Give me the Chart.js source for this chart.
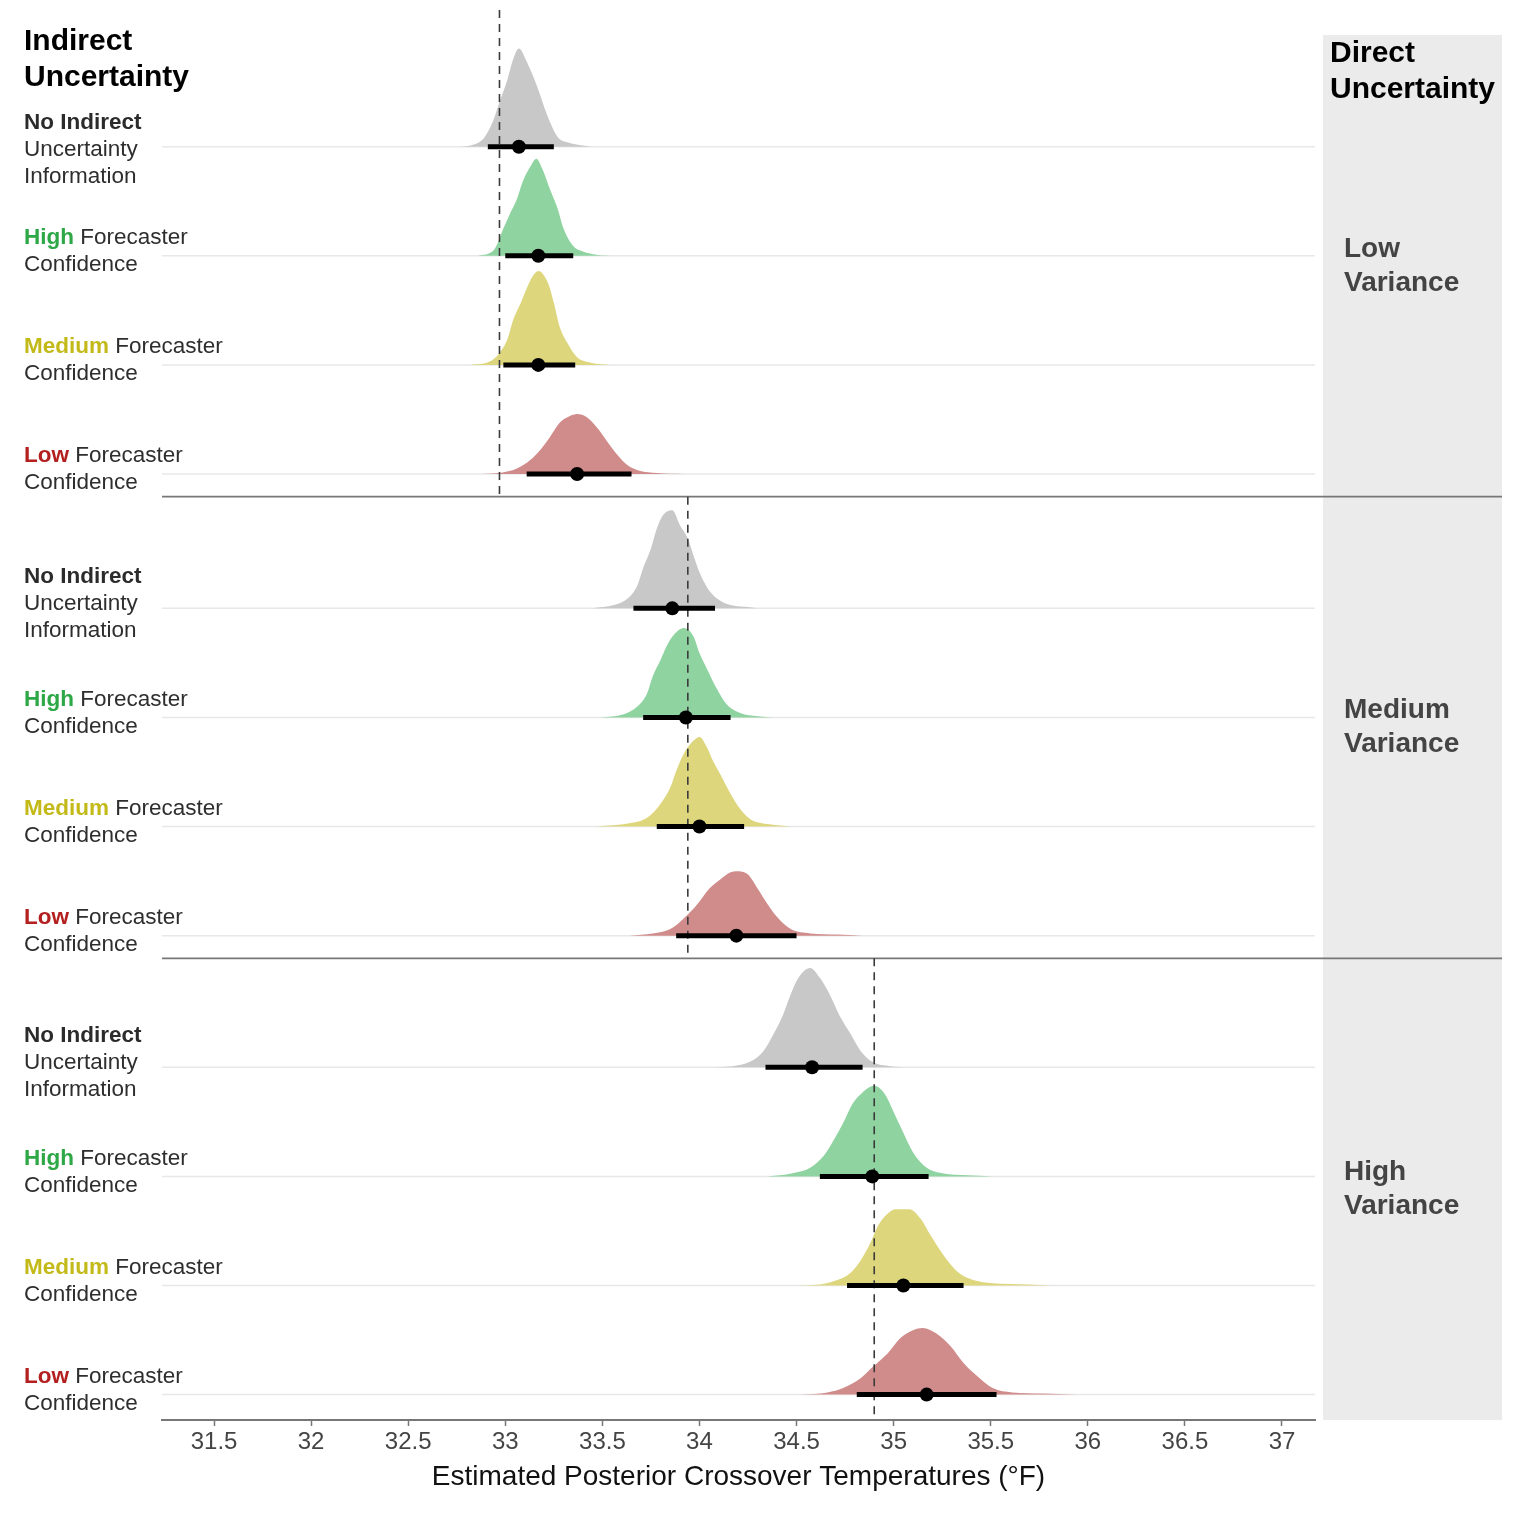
<!DOCTYPE html>
<html><head><meta charset="utf-8">
<script src="https://cdn.jsdelivr.net/npm/chart.js@4.4.1/dist/chart.umd.min.js"></script>
<style>html,body{margin:0;padding:0;background:#fff;}#wrap{width:1535px;height:1519px;}</style>
</head><body><div id="wrap"><canvas id="c" width="1535" height="1519"></canvas></div>
<script>
// ---------------- DATA ----------------
const xTicks = [31.5, 32, 32.5, 33, 33.5, 34, 34.5, 35, 35.5, 36, 36.5, 37];
const xTickLabels = ['31.5','32','32.5','33','33.5','34','34.5','35','35.5','36','36.5','37'];
const panelLabels = [['Low','Variance'], ['Medium','Variance'], ['High','Variance']];
const rowLeads = ['No Indirect', 'High', 'Medium', 'Low'];
const refLines = [32.97, 33.94, 34.90];

// Low variance panel densities (x in °F, h = ridge height in row units)
const lowNoneX = [32.77,32.82,32.89,32.94,32.97,33.01,33.04,33.07,33.11,33.16,33.22,33.27,33.32,33.40,33.44];
const lowNoneH = [0,.01,.08,.25,.41,.61,.80,.90,.78,.57,.27,.09,.04,.01,0];
const lowHighX = [32.86,32.94,32.99,33.02,33.06,33.09,33.13,33.16,33.19,33.23,33.27,33.30,33.35,33.40,33.47,33.54];
const lowHighH = [0,.05,.25,.37,.52,.68,.82,.89,.80,.61,.43,.25,.09,.04,.01,0];
const lowMedX = [32.82,32.92,32.97,33.01,33.04,33.08,33.11,33.14,33.17,33.22,33.25,33.28,33.32,33.37,33.44,33.54];
const lowMedH = [0,.03,.11,.23,.41,.57,.70,.81,.86,.75,.57,.35,.20,.07,.02,0];
const lowLowX = [32.85,32.97,33.06,33.13,33.18,33.23,33.28,33.33,33.37,33.42,33.47,33.52,33.58,33.63,33.69,33.78,33.92];
const lowLowH = [0,.01,.05,.13,.22,.34,.47,.53,.55,.52,.43,.31,.17,.08,.03,.01,0];
const lowIntLo = [32.91, 33.00, 32.99, 33.11];
const lowIntHi = [33.25, 33.35, 33.36, 33.65];
const lowMed   = [33.07, 33.17, 33.17, 33.37];

// Medium variance panel
const medNoneX = [33.45,33.56,33.63,33.68,33.71,33.75,33.78,33.81,33.86,33.90,33.94,33.97,34.00,34.04,34.09,34.16,34.26,34.30];
const medNoneH = [0,.03,.09,.21,.37,.55,.73,.85,.90,.76,.64,.48,.33,.19,.09,.03,.01,0];
const medHighX = [33.49,33.61,33.68,33.73,33.76,33.80,33.83,33.86,33.92,33.97,34.00,34.04,34.09,34.14,34.21,34.30,34.38];
const medHighH = [0,.03,.10,.22,.38,.53,.65,.74,.82,.74,.59,.44,.26,.12,.04,.01,0];
const medMedX = [33.47,33.64,33.73,33.80,33.85,33.88,33.92,33.96,34.00,34.04,34.07,34.11,34.16,34.21,34.26,34.36,34.47];
const medMedH = [0,.03,.08,.21,.36,.51,.67,.77,.82,.72,.60,.47,.30,.16,.07,.02,0];
const medLowX = [33.64,33.76,33.85,33.92,33.99,34.05,34.11,34.16,34.19,34.25,34.30,34.35,34.40,34.47,34.57,34.71,34.84];
const medLowH = [0,.02,.06,.16,.29,.43,.52,.58,.59,.56,.43,.29,.17,.06,.02,.01,0];
const medIntLo = [33.66, 33.71, 33.78, 33.88];
const medIntHi = [34.08, 34.16, 34.23, 34.50];
const medMed   = [33.86, 33.93, 34.00, 34.19];

// High variance panel
const highNoneX = [34.05,34.17,34.26,34.33,34.38,34.43,34.47,34.51,34.57,34.62,34.67,34.72,34.78,34.83,34.89,34.98,35.08];
const highNoneH = [0,.01,.05,.15,.30,.48,.67,.82,.91,.82,.67,.48,.30,.15,.05,.01,0];
const highHighX = [34.35,34.48,34.57,34.64,34.69,34.74,34.79,34.84,34.90,34.96,35.00,35.05,35.10,35.17,35.25,35.38,35.51];
const highHighH = [0,.03,.08,.19,.33,.49,.67,.77,.83,.74,.59,.40,.22,.08,.03,.01,0];
const highMedX = [34.47,34.62,34.71,34.78,34.83,34.88,34.92,34.97,35.01,35.08,35.14,35.19,35.24,35.29,35.34,35.41,35.51,35.69,35.82];
const highMedH = [0,.01,.05,.12,.23,.39,.55,.66,.70,.70,.61,.46,.32,.20,.11,.05,.02,.01,0];
const highLowX = [34.52,34.66,34.74,34.83,34.89,34.97,35.03,35.10,35.15,35.22,35.29,35.36,35.43,35.51,35.61,35.77,35.94];
const highLowH = [0,.02,.06,.15,.25,.38,.51,.59,.61,.56,.45,.29,.17,.06,.02,.01,0];
const highIntLo = [34.34, 34.62, 34.76, 34.81];
const highIntHi = [34.84, 35.18, 35.36, 35.53];
const highMed   = [34.58, 34.89, 35.05, 35.17];

// ---------------- LAYOUT / STYLE ----------------
const PANEL_H = 4.232, FIRST_OFF = 1.024, NP = 3;
const PANEL_SHIFT = [0, 0, 0.025];  // small vertical nudge of the last panel's rows
const Y_MAX = PANEL_H * NP;
const fillColors = ['#c8c8c8', '#8fd3a1', '#ddd67d', '#d08b8b'];
const leadColors = ['#2b2b2b', '#2ea746', '#c3ba19', '#b3201f'];
const TEXT = '#2e2e2e';
const FONT = '"Liberation Sans", Arial, Helvetica, sans-serif';

const panelsData = [
  {dens: [[lowNoneX,lowNoneH],[lowHighX,lowHighH],[lowMedX,lowMedH],[lowLowX,lowLowH]], lo: lowIntLo, hi: lowIntHi, med: lowMed},
  {dens: [[medNoneX,medNoneH],[medHighX,medHighH],[medMedX,medMedH],[medLowX,medLowH]], lo: medIntLo, hi: medIntHi, med: medMed},
  {dens: [[highNoneX,highNoneH],[highHighX,highHighH],[highMedX,highMedH],[highLowX,highLowH]], lo: highIntLo, hi: highIntHi, med: highMed}
];
function baseline(p, r) { return (NP - p) * PANEL_H - FIRST_OFF - r + PANEL_SHIFT[p]; }
function panelTop(p) { return (NP - p) * PANEL_H; }

const datasets = [];
panelsData.forEach((pd, p) => {
  pd.dens.forEach((d, r) => {
    const b = baseline(p, r);
    datasets.push({
      type: 'line', order: 3,
      data: d[0].map((x, i) => ({x: x, y: b + d[1][i]})),
      backgroundColor: fillColors[r], borderWidth: 0, borderColor: 'rgba(0,0,0,0)',
      pointRadius: 0, fill: {value: b}, cubicInterpolationMode: 'monotone'
    });
    datasets.push({
      type: 'line', order: 1,
      data: [{x: pd.lo[r], y: b}, {x: pd.hi[r], y: b}],
      borderColor: '#000', borderWidth: 5, pointRadius: 0, fill: false, borderCapStyle: 'butt'
    });
    datasets.push({
      type: 'scatter', order: 0,
      data: [{x: pd.med[r], y: b}],
      backgroundColor: '#000', borderColor: '#000', pointRadius: 7, pointBorderWidth: 0
    });
  });
  const top = p === 0 ? Y_MAX + 0.23 : panelTop(p);
  datasets.push({
    type: 'line', order: 2,
    data: [{x: refLines[p], y: top}, {x: refLines[p], y: panelTop(p + 1)}],
    borderColor: '#3a3a3a', borderWidth: 1.6, borderDash: [8, 6], pointRadius: 0, fill: false,
    clip: false
  });
});

const decor = {
  id: 'decor',
  beforeDraw(chart) {
    const {ctx, chartArea} = chart;
    ctx.save();
    ctx.fillStyle = '#ebebeb';
    ctx.fillRect(1323, chartArea.top, 1502 - 1323, chartArea.bottom - chartArea.top);
    ctx.restore();
  },
  beforeDatasetsDraw(chart) {
    const {ctx, chartArea, scales: {y}} = chart;
    ctx.save();
    ctx.strokeStyle = '#e8e8e8';
    ctx.lineWidth = 1.5;
    for (let p = 0; p < NP; p++) for (let r = 0; r < 4; r++) {
      const py = y.getPixelForValue(baseline(p, r));
      ctx.beginPath(); ctx.moveTo(chartArea.left, py); ctx.lineTo(chartArea.right, py); ctx.stroke();
    }
    ctx.strokeStyle = '#777';
    ctx.lineWidth = 1.6;
    for (let p = 1; p < NP; p++) {
      const py = y.getPixelForValue(panelTop(p));
      ctx.beginPath(); ctx.moveTo(chartArea.left, py); ctx.lineTo(1502, py); ctx.stroke();
    }
    ctx.restore();
  },
  afterDraw(chart) {
    const {ctx, scales: {y}} = chart;
    ctx.save();
    ctx.textBaseline = 'middle';
    ctx.textAlign = 'left';
    // titles
    ctx.fillStyle = '#000';
    ctx.font = 'bold 30px ' + FONT;
    ctx.fillText('Indirect', 24, 42);
    ctx.fillText('Uncertainty', 24, 78);
    ctx.fillText('Direct', 1330, 54);
    ctx.fillText('Uncertainty', 1330, 90);
    // strip labels
    ctx.fillStyle = '#444';
    ctx.font = 'bold 28px ' + FONT;
    for (let p = 0; p < NP; p++) {
      const cy = (y.getPixelForValue(panelTop(p)) + y.getPixelForValue(panelTop(p + 1))) / 2;
      ctx.fillText(panelLabels[p][0], 1344, cy - 17);
      ctx.fillText(panelLabels[p][1], 1344, cy + 17);
    }
    // row labels
    const LH = 27;
    for (let p = 0; p < NP; p++) for (let r = 0; r < 4; r++) {
      const by = y.getPixelForValue(baseline(p, r));
      const c = by - 4.5 + ((p === 0 && r === 0) ? 8 : 0);
      if (r === 0) {
        const y0 = c - LH;
        ctx.font = 'bold 22.5px ' + FONT; ctx.fillStyle = leadColors[0];
        ctx.fillText(rowLeads[0], 24, y0);
        ctx.font = '22.5px ' + FONT; ctx.fillStyle = TEXT;
        ctx.fillText('Uncertainty', 24, y0 + LH);
        ctx.fillText('Information', 24, y0 + 2 * LH);
      } else {
        const y0 = c - LH / 2;
        ctx.font = 'bold 22.5px ' + FONT; ctx.fillStyle = leadColors[r];
        ctx.fillText(rowLeads[r], 24, y0);
        const w = ctx.measureText(rowLeads[r] + ' ').width;
        ctx.font = '22.5px ' + FONT; ctx.fillStyle = TEXT;
        ctx.fillText('Forecaster', 24 + w, y0);
        ctx.fillText('Confidence', 24, y0 + LH);
      }
    }
    ctx.restore();
  }
};

new Chart(document.getElementById('c'), {
  data: {datasets},
  options: {
    responsive: false, animation: false, devicePixelRatio: 1,
    layout: {padding: {left: 162, right: 220, top: 35, bottom: 0}},
    plugins: {legend: {display: false}, tooltip: {enabled: false}},
    scales: {
      x: {
        type: 'linear', min: 31.232, max: 37.17, position: 'bottom',
        afterBuildTicks: (s) => { s.ticks = xTicks.map(v => ({value: v})); },
        afterFit: (s) => { s.height = 99; },
        ticks: {
          autoSkip: false, maxRotation: 0, padding: 2, color: '#444',
          font: {family: FONT, size: 24},
          callback: (v, i) => xTickLabels[i]
        },
        grid: {drawOnChartArea: false, drawTicks: true, tickLength: 6, tickColor: '#777', tickWidth: 1.5},
        border: {display: true, color: '#777', width: 2},
        title: {display: true, text: 'Estimated Posterior Crossover Temperatures (°F)', color: '#111',
          font: {family: FONT, size: 28}, padding: {top: 0, bottom: 25}}
      },
      y: {type: 'linear', min: 0, max: Y_MAX, display: false}
    }
  },
  plugins: [decor]
});
</script></body></html>
